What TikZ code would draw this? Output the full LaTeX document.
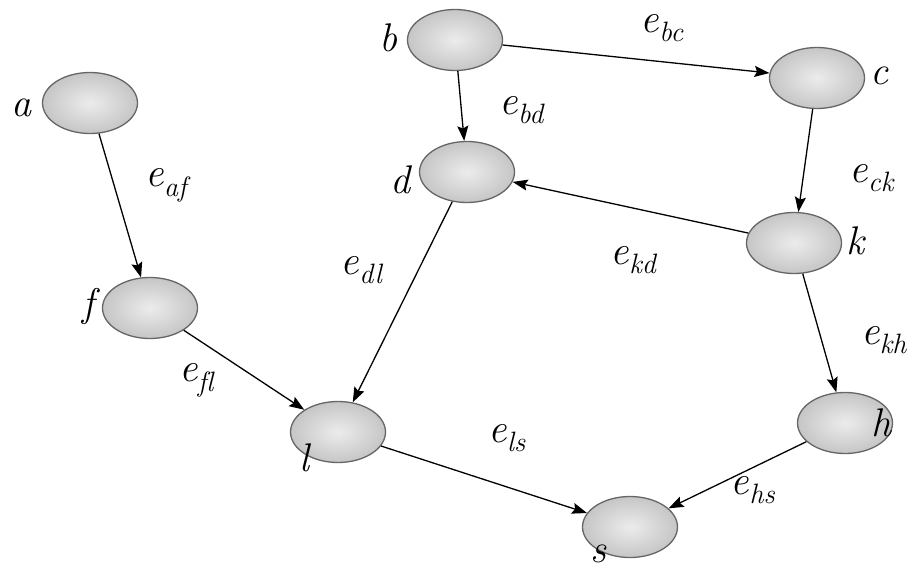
\documentclass[tikz,border=0pt]{standalone}
\usepackage{fontspec}
\usetikzlibrary{shapes.geometric,arrows.meta}
\newcommand\esub[1]{\textit{e}\raisebox{-0.55ex}{\fontsize{28}{30}\selectfont\textit{#1}}}
\begin{document}
\begin{tikzpicture}[x=1pt,y=-1pt,
  vert/.style={ellipse,minimum width=95pt,minimum height=61pt,inner sep=0pt,
    draw=gray!80!black,line width=1.3pt,shading=radial,inner color=gray!15,outer color=gray!45},
  vlab/.style={font=\fontsize{40}{44}\selectfont\itshape},
  elab/.style={font=\fontsize{41}{44}\selectfont},
  edge/.style={line width=1.3pt,-{Stealth[length=15pt,width=11pt,inset=2.5pt]}}]
\useasboundingbox (0,0) rectangle (917,572);
\node[vert] (a) at (90,103) {};
\node[vert] (b) at (455,40) {};
\node[vert] (c) at (817,78) {};
\node[vert] (d) at (467,172) {};
\node[vert] (k) at (794,243) {};
\node[vert] (f) at (150,308) {};
\node[vert] (l) at (338,432) {};
\node[vert] (h) at (845,423) {};
\node[vert] (s) at (630,527) {};
\node[vlab] (la) at (21,108) {a};
\node[vlab] (lb) at (388,38) {b};
\node[vlab] (lc) at (879,76) {c};
\node[vlab] (ld) at (400,180) {d};
\node[vlab] (lk) at (855,241) {k};
\node[vlab] (lf) at (88,306) {f};
\node[vlab] (ll) at (304,458) {l};
\node[vlab] (lh) at (881,423) {h};
\node[vlab] (ls) at (598,554) {s};
\node[elab] (eaf) at (168,185) {\esub{af}};
\node[elab] (ebd) at (522,110) {\esub{bd}};
\node[elab] (ebc) at (662,28) {\esub{bc}};
\node[elab] (eck) at (872,178) {\esub{ck}};
\node[elab] (ekd) at (634,260) {\esub{kd}};
\node[elab] (edl) at (362,270) {\esub{dl}};
\node[elab] (efl) at (197,380) {\esub{f\kern0pt l}};
\node[elab] (els) at (507,438) {\esub{ls}};
\node[elab] (ekh) at (884,340) {\esub{kh}};
\node[elab] (ehs) at (753,490) {\esub{hs}};
\draw[edge] (a) -- (f);
\draw[edge] (b) -- (d);
\draw[edge] (b) -- (c);
\draw[edge] (c) -- (k);
\draw[edge] (k) -- (d);
\draw[edge] (d) -- (l);
\draw[edge] (f) -- (l);
\draw[edge] (l) -- (s);
\draw[edge] (k) -- (h);
\draw[edge] (h) -- (s);
\end{tikzpicture}
\end{document}
